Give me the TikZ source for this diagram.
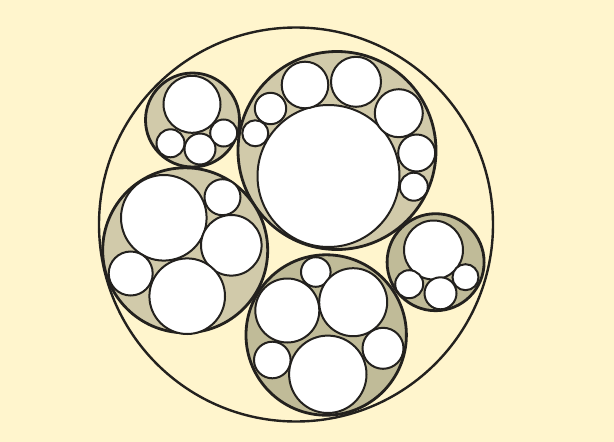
\documentclass[tikz,border=0pt]{standalone}
\definecolor{bgcol}{RGB}{255,245,205}
\definecolor{tanA}{RGB}{209,202,170}
\definecolor{tanB}{RGB}{192,187,152}
\definecolor{ink}{RGB}{35,33,30}
\tikzset{
  outerring/.style={draw=ink,line width=2.4pt},
  clusterL/.style={draw=ink,line width=2.8pt,fill=tanA},
  clusterD/.style={draw=ink,line width=2.8pt,fill=tanB},
  cell/.style={draw=ink,line width=2pt,fill=white}
}
\begin{document}
\begin{tikzpicture}[x=1pt,y=-1pt]
\fill[bgcol] (0,0) rectangle (614,442);
\useasboundingbox (0,0) rectangle (614,442);
% outer circle
\draw[outerring] (296,224.5) circle (197);
% cluster A (upper left)
\draw[clusterL] (192.5,120) circle (47);
\draw[cell] (192,104.3) circle (28.5);
\draw[cell] (170.5,143.3) circle (14);
\draw[cell] (200,149) circle (15.5);
\draw[cell] (223.7,133) circle (13.5);
% cluster B (top right, big)
\draw[clusterL] (337,150.5) circle (99);
\draw[cell] (328.5,176) circle (71);
\draw[cell] (255.3,133.3) circle (13);
\draw[cell] (270.5,108.5) circle (15.7);
\draw[cell] (305,85) circle (23.3);
\draw[cell] (356,81.8) circle (25);
\draw[cell] (398.8,113.2) circle (24);
\draw[cell] (416.7,153) circle (18.5);
\draw[cell] (413.8,186.7) circle (14);
% cluster C (left)
\draw[clusterL] (185.2,250.3) circle (82.5);
\draw[cell] (163.8,217.8) circle (42.8);
\draw[cell] (222.5,197.2) circle (18);
\draw[cell] (231.3,245.3) circle (30.3);
\draw[cell] (130.7,273.5) circle (22);
\draw[cell] (187.2,296.2) circle (37.8);
% cluster D (bottom)
\draw[clusterD] (326.2,335) circle (80.2);
\draw[cell] (315.8,272) circle (14.8);
\draw[cell] (287.3,310.5) circle (32);
\draw[cell] (353.2,302.2) circle (34);
\draw[cell] (383,348.3) circle (20.5);
\draw[cell] (272.3,360) circle (18.3);
\draw[cell] (327.8,374.3) circle (38.7);
% cluster E (right)
\draw[clusterD] (435.6,262.2) circle (48.5);
\draw[cell] (433.5,250) circle (29.5);
\draw[cell] (409.2,284.2) circle (14);
\draw[cell] (440.5,293.3) circle (16);
\draw[cell] (465.5,277.2) circle (13);
\end{tikzpicture}
\end{document}
